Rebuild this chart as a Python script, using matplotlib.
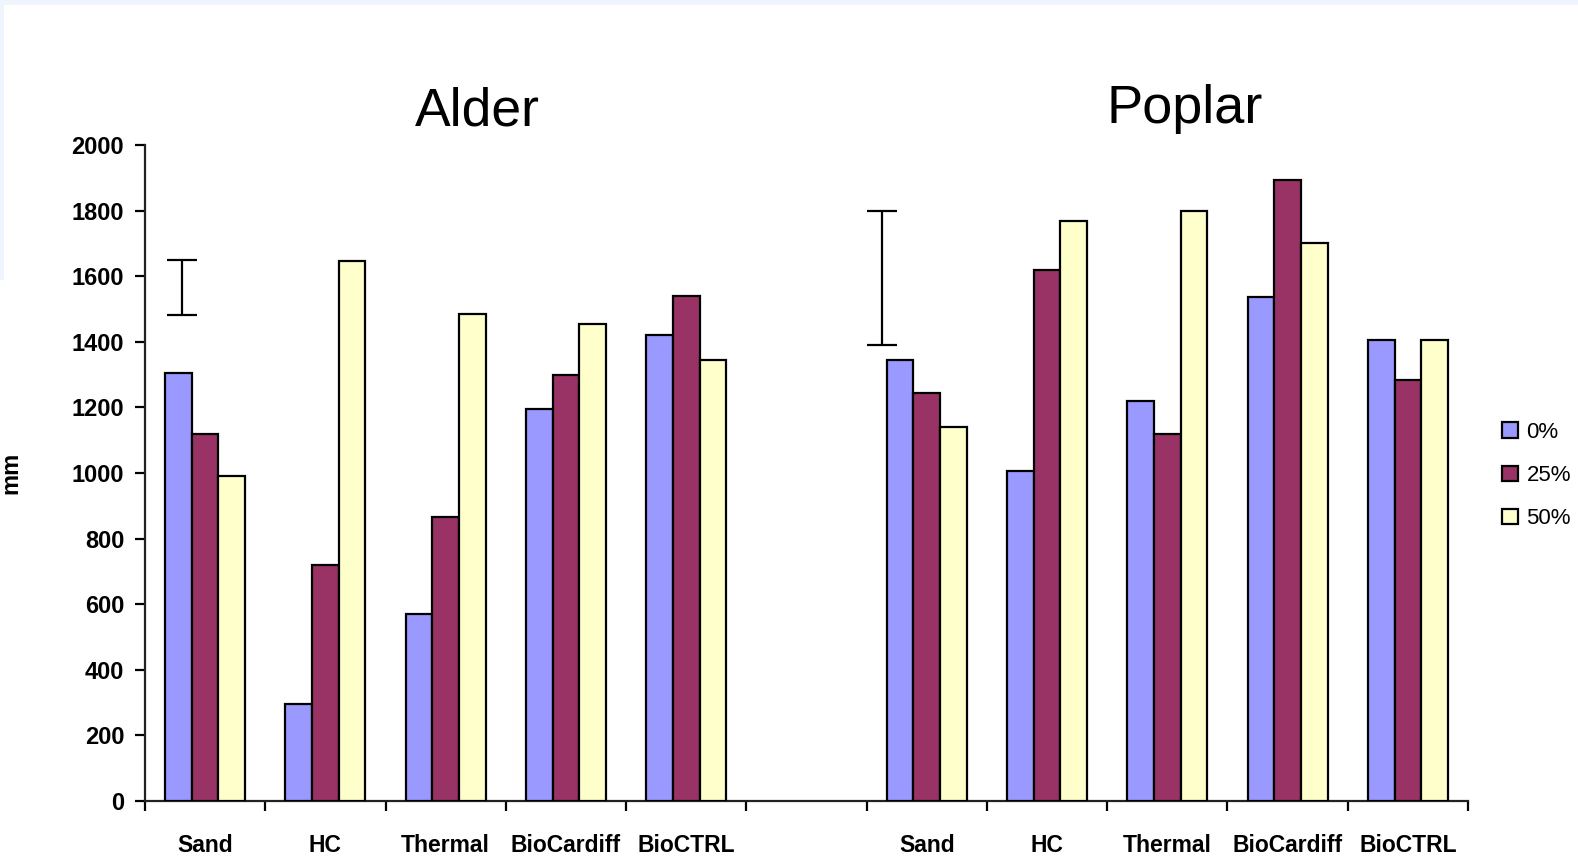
import matplotlib
matplotlib.use("Agg")
import matplotlib.pyplot as plt
from matplotlib.patches import Rectangle
import numpy as np

categories = ["Sand", "HC", "Thermal", "BioCardiff", "BioCTRL"]
series = ["0%", "25%", "50%"]
alder_0 = [1305, 295, 570, 1195, 1420]
alder_25 = [1120, 720, 865, 1300, 1540]
alder_50 = [990, 1645, 1485, 1455, 1345]
poplar_0 = [1345, 1005, 1218, 1538, 1405]
poplar_25 = [1245, 1620, 1120, 1892, 1285]
poplar_50 = [1140, 1767, 1800, 1700, 1405]
# standalone error bars (low, high), drawn left of each Sand group
alder_err = (1482, 1650)
poplar_err = (1390, 1800)
err_offsets = [-0.19, -0.37]
ticks = [0, 200, 400, 600, 800, 1000, 1200, 1400, 1600, 1800, 2000]

colors = ["#9999FF", "#993366", "#FFFFCC"]

fig = plt.figure(figsize=(15.78, 8.57), dpi=100)
fig.patch.set_facecolor("white")
# slide background strips
fig.add_artist(Rectangle((0, 1 - 5/857), 1, 5/857, transform=fig.transFigure,
                         facecolor="#EEF5FC", edgecolor="none", zorder=0))
fig.add_artist(Rectangle((0, 1 - 280/857), 4/1578, 280/857, transform=fig.transFigure,
                         facecolor="#EEF5FC", edgecolor="none", zorder=0))

ax = fig.add_axes([145/1578, 56/857, (1468-145)/1578, (801-145)/857])

slots_alder = np.arange(5)
slots_poplar = np.arange(6, 11)
bw = 0.222
data = [(alder_0, poplar_0), (alder_25, poplar_25), (alder_50, poplar_50)]
for k, (a, p) in enumerate(data):
    off = (k - 1) * bw
    ax.bar(slots_alder + off, a, width=bw, color=colors[k], edgecolor="black",
           linewidth=1.6, label=series[k], zorder=3)
    ax.bar(slots_poplar + off, p, width=bw, color=colors[k], edgecolor="black",
           linewidth=1.6, zorder=3)

for base, err, off in zip([0, 6], [alder_err, poplar_err], err_offsets):
    mid = (err[0] + err[1]) / 2
    half = (err[1] - err[0]) / 2
    ax.errorbar([base + off], [mid], yerr=[[half], [half]], fmt="none",
                ecolor="black", elinewidth=1.6, capsize=11, capthick=1.6, zorder=4)

ax.set_xlim(-0.5, 10.5)
ax.set_ylim(0, 2000)
ax.spines["top"].set_visible(False)
ax.spines["right"].set_visible(False)
for s in ["left", "bottom"]:
    ax.spines[s].set_linewidth(1.6)
    ax.spines[s].set_color("#222222")

ax.set_yticks(ticks)
ax.set_yticklabels([str(t) for t in ticks], fontfamily="Liberation Sans",
                   fontweight="bold", fontsize=17)
ax.tick_params(axis="y", direction="out", length=7, width=1.6, pad=8)

ax.set_xticks(np.arange(-0.5, 11.0, 1.0))
ax.set_xticklabels([])
ax.tick_params(axis="x", direction="out", length=7, width=1.6)
ax.set_xticks(list(slots_alder) + list(slots_poplar), minor=True)
ax.set_xticklabels(categories + categories, minor=True, fontfamily="Liberation Sans",
                   fontweight="bold", fontsize=16.5)
ax.tick_params(axis="x", which="minor", length=0, pad=24)

ax.set_ylabel("mm", fontfamily="Liberation Sans", fontweight="bold", fontsize=17)
ax.yaxis.set_label_coords(-0.093, 0.5)

fig.text(477/1578, 1 - 112/857, "Alder", ha="center", va="center",
         fontfamily="Liberation Sans", fontsize=38.5)
fig.text(1185/1578, 1 - 109/857, "Poplar", ha="center", va="center",
         fontfamily="Liberation Sans", fontsize=39)

leg = ax.legend(loc="center left", bbox_to_anchor=(1.019, 0.496), frameon=False,
                prop={"family": "Liberation Sans", "size": 16}, handlelength=0.7,
                handleheight=0.7, handletextpad=0.4, labelspacing=1.0, borderaxespad=0)
for h in leg.legend_handles:
    h.set_linewidth(1.6)

fig.savefig("out.png", dpi=100, facecolor=fig.get_facecolor())
